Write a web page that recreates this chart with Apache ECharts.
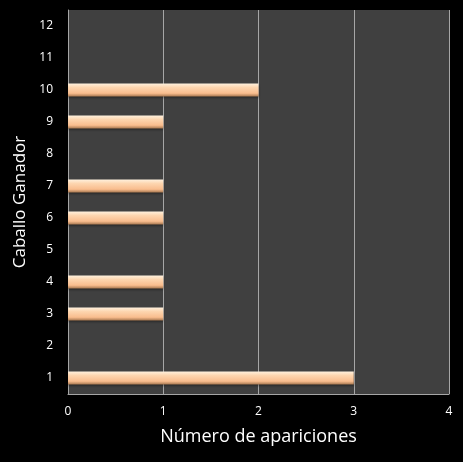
<!DOCTYPE html>
<html><head><meta charset="utf-8">
<script src="https://cdn.jsdelivr.net/npm/echarts@6/dist/echarts.min.js"></script>
<style>html,body{margin:0;padding:0;background:#000;}#c{width:463px;height:462px;}</style>
</head><body><div id="c"></div>
<script>
const categories = ['1','2','3','4','5','6','7','8','9','10','11','12'];
const values = [3,0,1,1,0,1,1,0,1,2,0,0];
const xTicks = {min:0, max:4, interval:1};
const chart = echarts.init(document.getElementById('c'));
const font = '"Open Sans", "Noto Sans", sans-serif';
chart.setOption({
  backgroundColor:'#000',
  animation:false,
  grid:{left:68, top:10, right:14, bottom:68, show:true, backgroundColor:'#404040', borderWidth:0},
  xAxis:{type:'value', min:xTicks.min, max:xTicks.max, interval:xTicks.interval,
    name:'Número de apariciones', nameLocation:'middle', nameGap:34,
    nameTextStyle:{color:'#fff', fontSize:18, fontFamily:font},
    axisLine:{show:true, lineStyle:{color:'#a6a6a6', width:1}},
    axisTick:{show:false},
    axisLabel:{color:'#fff', fontSize:12, fontFamily:font, margin:12},
    splitLine:{show:true, lineStyle:{color:'#a6a6a6', width:1}}
  },
  yAxis:{type:'category', data:categories,
    name:'Caballo Ganador', nameLocation:'middle', nameGap:33,
    nameTextStyle:{color:'#fff', fontSize:17, fontFamily:font},
    axisLine:{show:true, lineStyle:{color:'#a6a6a6', width:1}},
    axisTick:{show:false},
    axisLabel:{color:'#fff', fontSize:12, fontFamily:font, margin:15},
    splitLine:{show:false}
  },
  series:[{type:'bar', data:values, barWidth:13,
    itemStyle:{
      color:new echarts.graphic.LinearGradient(0,0,0,1,[
        {offset:0,color:'#fff1de'},
        {offset:0.3,color:'#fdd6b0'},
        {offset:0.75,color:'#f9bd8e'},
        {offset:1,color:'#a87850'}
      ]),
      shadowColor:'rgba(0,0,0,0.35)', shadowBlur:2, shadowOffsetY:1
    }
  }]
});
</script></body></html>
